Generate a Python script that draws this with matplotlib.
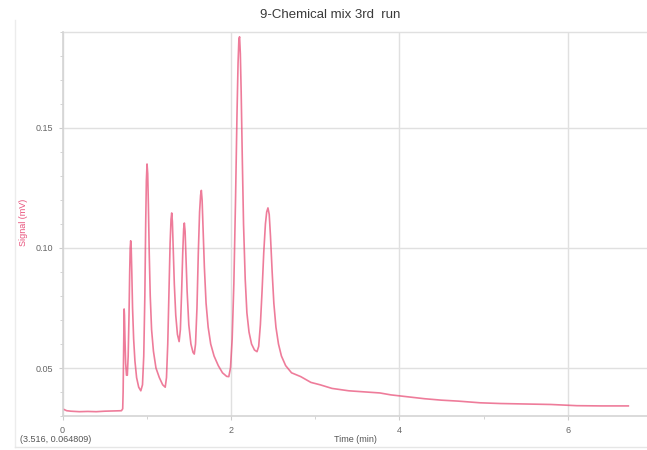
import matplotlib
matplotlib.use("Agg")
import matplotlib.pyplot as plt
from matplotlib.ticker import MultipleLocator
from matplotlib.lines import Line2D

plt.rcParams['font.family'] = ['Liberation Sans', 'DejaVu Sans']

title = "9-Chemical mix 3rd  run"
xlabel = "Time (min)"
ylabel = "Signal (mV)"
cursor_text = "(3.516, 0.064809)"
xticks = [0, 2, 4, 6]
yticks = [0.05, 0.10, 0.15]
ytick_labels = ["0.05", "0.10", "0.15"]

# (time, signal) pairs
trace = [
    (0.00, 0.0330), (0.05, 0.0322), (0.10, 0.0320), (0.20, 0.0318), (0.30, 0.0319),
    (0.40, 0.0318), (0.50, 0.0320), (0.60, 0.0321), (0.70, 0.0322), (0.715, 0.0330),
    (0.720, 0.0400), (0.725, 0.0550), (0.729, 0.0700), (0.732, 0.0746), (0.736, 0.0720),
    (0.742, 0.0620), (0.750, 0.0520), (0.760, 0.0470), (0.770, 0.0470), (0.780, 0.0550),
    (0.790, 0.0720), (0.798, 0.0900), (0.804, 0.1000), (0.810, 0.1030), (0.816, 0.1000),
    (0.823, 0.0900), (0.832, 0.0750), (0.845, 0.0620), (0.860, 0.0530), (0.880, 0.0460),
    (0.905, 0.0420), (0.930, 0.0405), (0.950, 0.0430), (0.965, 0.0550), (0.978, 0.0800),
    (0.988, 0.1100), (0.996, 0.1280), (1.004, 0.1350), (1.012, 0.1310), (1.020, 0.1180),
    (1.030, 0.0980), (1.042, 0.0800), (1.058, 0.0660), (1.080, 0.0570), (1.110, 0.0500),
    (1.150, 0.0460), (1.190, 0.0430), (1.220, 0.0420), (1.235, 0.0460), (1.250, 0.0600),
    (1.265, 0.0820), (1.278, 0.1020), (1.289, 0.1120), (1.297, 0.1146), (1.305, 0.1110),
    (1.315, 0.1000), (1.328, 0.0850), (1.345, 0.0720), (1.365, 0.0640), (1.385, 0.0610),
    (1.400, 0.0660), (1.415, 0.0820), (1.428, 0.0980), (1.439, 0.1080), (1.447, 0.1104),
    (1.456, 0.1070), (1.467, 0.0960), (1.480, 0.0820), (1.500, 0.0680), (1.525, 0.0600),
    (1.550, 0.0565), (1.565, 0.0558), (1.580, 0.0600), (1.597, 0.0750), (1.613, 0.0980),
    (1.628, 0.1150), (1.640, 0.1220), (1.649, 0.1240), (1.658, 0.1200), (1.670, 0.1080),
    (1.685, 0.0920), (1.705, 0.0770), (1.730, 0.0670), (1.760, 0.0600), (1.800, 0.0550),
    (1.850, 0.0510), (1.900, 0.0480), (1.950, 0.0465), (1.975, 0.0464), (1.995, 0.0500),
    (2.015, 0.0620), (2.035, 0.0850), (2.055, 0.1200), (2.072, 0.1550), (2.085, 0.1770),
    (2.095, 0.1870), (2.103, 0.1880), (2.112, 0.1810), (2.122, 0.1650), (2.135, 0.1380),
    (2.150, 0.1100), (2.170, 0.0870), (2.190, 0.0730), (2.215, 0.0650), (2.245, 0.0600),
    (2.280, 0.0575), (2.310, 0.0568), (2.330, 0.0590), (2.350, 0.0680), (2.370, 0.0820),
    (2.390, 0.0980), (2.410, 0.1100), (2.425, 0.1150), (2.440, 0.1167), (2.455, 0.1140),
    (2.470, 0.1050), (2.490, 0.0900), (2.510, 0.0770), (2.535, 0.0670), (2.565, 0.0600),
    (2.600, 0.0550), (2.650, 0.0510), (2.720, 0.0480), (2.830, 0.0464), (2.950, 0.0440),
    (3.060, 0.0430), (3.200, 0.0415), (3.400, 0.0405), (3.600, 0.0400), (3.770, 0.0396),
    (3.900, 0.0388), (4.100, 0.0380), (4.300, 0.0372), (4.500, 0.0366), (4.700, 0.0362),
    (4.960, 0.0355), (5.200, 0.0352), (5.500, 0.0350), (5.800, 0.0348), (6.110, 0.0343),
    (6.400, 0.0342), (6.720, 0.0342),
]
time_min = [p[0] for p in trace]
signal_mv = [p[1] for p in trace]

W, H = 647, 450
fig = plt.figure(figsize=(W / 100, H / 100), dpi=100)
ax = fig.add_axes([62.5 / W, (H - 416) / H, 1 - 62.5 / W, (416 - 32) / H])

ax.plot(time_min, signal_mv, color='#e84a74', lw=1.2, alpha=0.72, solid_joinstyle='round')

ax.set_xlim(0, (W - 62.5) / 84.2)
ax.set_ylim(0.03, 0.19)
ax.set_xticks(xticks)
ax.set_yticks(yticks)
ax.set_yticklabels(ytick_labels)
ax.xaxis.set_minor_locator(MultipleLocator(1))
ax.yaxis.set_minor_locator(MultipleLocator(0.01))
ax.grid(True, which='major', color='#e0e0e0', lw=1.0)
ax.set_axisbelow(True)
for s in ['top', 'right']:
    ax.spines[s].set_visible(False)
ax.spines['left'].set_color('#d4d4d4')
ax.spines['bottom'].set_color('#d4d4d4')
ax.spines['left'].set_linewidth(1.2)
ax.spines['bottom'].set_linewidth(1.2)
ax.tick_params(axis='both', which='both', colors='#cccccc', labelcolor='#666666',
               labelsize=6.5, length=3, direction='out')
ax.tick_params(axis='both', which='minor', length=2)
ax.tick_params(axis='x', pad=4)
ax.tick_params(axis='y', pad=4)

ax.axhline(0.19, color='#e0e0e0', lw=1.0, clip_on=False)

fig.text(330 / W, 1 - 15 / H, title, ha='center', va='center', fontsize=9.5, color='#3a3a3a')
fig.text(355 / W, 1 - 440 / H, xlabel, ha='center', va='center', fontsize=6.5, color='#555555')
fig.text(24 / W, 1 - 222 / H, ylabel, ha='center', va='center', rotation=90,
         fontsize=6.5, color='#e8507a')
fig.text(20 / W, 1 - 440 / H, cursor_text, ha='left', va='center', fontsize=6.5, color='#555555')

fig.add_artist(Line2D([15 / W, 15 / W], [1 - 447 / H, 1 - 20 / H], color='#ececec', lw=1))
fig.add_artist(Line2D([15 / W, 1], [1 - 447 / H, 1 - 447 / H], color='#e6e6e6', lw=1))

fig.savefig("out.png", dpi=100)
